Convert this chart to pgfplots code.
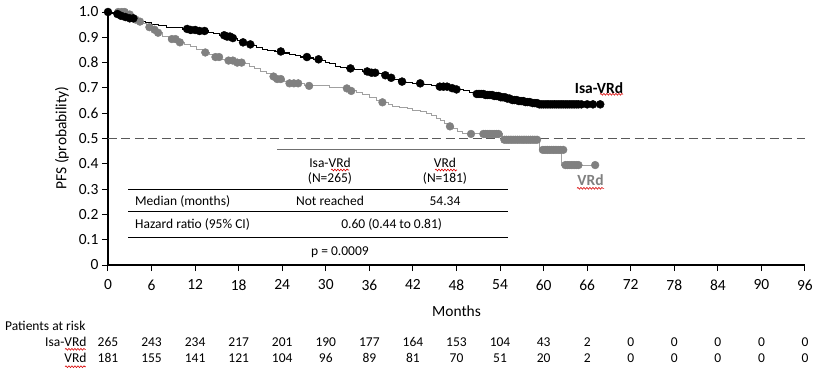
\documentclass[border=0pt]{standalone}
\usepackage{pgfplots}
\pgfplotsset{compat=1.18}
\usepackage{fontspec}
\setmainfont{Carlito}
\usetikzlibrary{decorations.pathmorphing}
\definecolor{grayline}{HTML}{A0A0A0}
\definecolor{graydot}{HTML}{808080}
\definecolor{dashcol}{HTML}{595959}
\definecolor{toprule}{HTML}{707070}
\newcommand{\fs}[1]{\fontsize{#1}{#1}\selectfont}
\begin{document}
\begin{tikzpicture}
\path[use as bounding box] (-108pt,-108pt) rectangle (709pt,265pt);
\begin{axis}[
  at={(0pt,0pt)}, anchor=south west,
  scale only axis, width=697pt, height=253pt,
  xmin=0, xmax=96, ymin=0, ymax=1,
  axis x line*=bottom, axis y line*=left,
  axis line style={-, black, line width=1.3pt},
  xtick={0,6,12,18,24,30,36,42,48,54,60,66,72,78,84,90,96},
  ytick={0,0.1,0.2,0.3,0.4,0.5,0.6,0.7,0.8,0.9,1.0},
  yticklabels={0,0.1,0.2,0.3,0.4,0.5,0.6,0.7,0.8,0.9,1.0},
  tick align=outside, major tick length=6pt,
  tick style={black, line width=1pt},
  /pgf/number format/assume math mode=true,
  tick label style={font=\fs{15.5}},
  xticklabel style={yshift=-5pt},
  clip=false,
]
\addplot[dashcol, line width=1.5pt, dash pattern=on 9pt off 4.5pt] coordinates {(0,0.5) (96,0.5)};
% VRd curve
\addplot[const plot, grayline, line width=1pt] table {
t s
0 1.000
2.6 0.990
3.2 0.980
3.6 0.970
4.2 0.962
4.6 0.955
5.3 0.940
6.2 0.930
6.7 0.918
7.5 0.905
8.3 0.893
9.6 0.880
10.5 0.870
11.3 0.862
12.2 0.852
13.0 0.840
14.0 0.832
14.6 0.822
15.6 0.812
16.3 0.808
17.6 0.800
18.8 0.795
19.5 0.785
20.2 0.775
21.0 0.765
21.8 0.756
22.5 0.745
23.2 0.735
24.3 0.725
24.8 0.718
27.0 0.708
30.5 0.703
32.5 0.698
33.4 0.688
34.2 0.680
35.0 0.672
36.0 0.662
37.0 0.652
37.6 0.643
38.6 0.635
39.2 0.627
40.2 0.622
41.2 0.617
42.0 0.612
43.0 0.605
43.8 0.598
44.5 0.590
45.2 0.580
45.8 0.570
46.3 0.560
47.0 0.548
47.6 0.538
48.2 0.528
48.8 0.518
54.3 0.495
59.5 0.455
62.5 0.395
67.1 0.395
};
\addplot[only marks, mark=*, mark size=3.9pt, graydot, mark options={draw=graydot, fill=graydot}] table {
t s
1.4 1.000
1.9 1.000
2.3 1.000
3.0 0.990
3.8 0.970
4.4 0.962
5.7 0.940
6.4 0.930
6.9 0.918
8.8 0.893
9.3 0.893
9.9 0.880
13.4 0.840
14.8 0.822
15.3 0.822
16.6 0.808
17.2 0.808
17.8 0.800
18.4 0.800
22.8 0.745
23.3 0.735
23.8 0.735
25.0 0.718
25.6 0.718
26.2 0.718
27.7 0.708
32.9 0.698
33.5 0.688
37.8 0.643
47.1 0.548
50.0 0.518
51.7 0.518
52.0 0.518
52.3 0.518
52.6 0.518
52.9 0.518
53.2 0.518
53.5 0.518
53.8 0.518
54.6 0.495
54.9 0.495
55.2 0.495
55.5 0.495
55.8 0.495
56.1 0.495
56.4 0.495
56.7 0.495
57.0 0.495
57.3 0.495
57.6 0.495
57.9 0.495
58.2 0.495
58.5 0.495
58.8 0.495
59.1 0.495
59.9 0.455
60.2 0.455
60.5 0.455
60.8 0.455
61.1 0.455
61.4 0.455
61.7 0.455
62.0 0.455
62.3 0.455
62.7 0.455
63.0 0.395
63.3 0.395
63.6 0.395
63.9 0.395
64.2 0.395
64.5 0.395
64.8 0.395
67.1 0.395
};
% Isa-VRd curve
\addplot[const plot, black, line width=1.1pt] table {
t s
0 1.000
0.5 0.996
1.0 0.992
1.5 0.985
2.2 0.980
3.0 0.975
3.8 0.970
4.5 0.963
5.2 0.957
6.0 0.952
7.0 0.946
8.0 0.940
9.5 0.938
10.3 0.933
11.0 0.929
12.5 0.925
13.8 0.920
14.5 0.914
15.3 0.908
16.2 0.903
17.0 0.897
17.8 0.889
18.5 0.880
19.2 0.872
19.8 0.866
20.5 0.858
21.3 0.852
22.0 0.848
23.0 0.844
24.0 0.838
25.0 0.833
25.8 0.827
26.5 0.822
27.5 0.818
28.3 0.813
29.2 0.809
30.0 0.799
30.5 0.795
31.3 0.786
32.0 0.781
32.8 0.777
34.0 0.772
35.0 0.765
36.0 0.760
37.0 0.756
38.0 0.750
38.8 0.740
39.3 0.732
40.0 0.725
40.8 0.721
42.0 0.718
43.5 0.713
44.5 0.708
45.5 0.705
47.0 0.699
48.0 0.694
49.0 0.688
49.8 0.682
50.5 0.676
52.0 0.672
53.0 0.668
54.0 0.663
55.0 0.658
55.6 0.652
56.5 0.648
57.5 0.644
58.5 0.640
59.3 0.635
67.8 0.635
};
\addplot[only marks, mark=*, mark size=4pt, black] table {
t s
0.0 1.000
1.3 0.992
1.8 0.985
2.4 0.980
3.0 0.975
3.5 0.975
10.9 0.933
11.4 0.929
12.0 0.929
12.6 0.925
13.3 0.925
16.0 0.908
16.4 0.903
16.8 0.903
17.2 0.897
18.6 0.880
19.6 0.872
23.8 0.844
27.4 0.822
29.0 0.813
33.4 0.777
35.7 0.765
36.3 0.760
36.8 0.760
38.2 0.750
39.0 0.740
40.5 0.725
43.0 0.718
45.7 0.705
46.2 0.705
46.7 0.705
47.4 0.699
48.0 0.694
50.8 0.676
51.1 0.676
51.4 0.676
51.7 0.676
52.0 0.672
52.3 0.672
52.6 0.672
52.9 0.672
53.2 0.668
53.5 0.668
53.8 0.668
54.1 0.663
54.4 0.663
54.7 0.663
55.0 0.658
55.3 0.658
55.7 0.652
56.0 0.652
56.3 0.652
56.6 0.648
56.9 0.648
57.2 0.648
57.5 0.644
57.8 0.644
58.1 0.644
58.5 0.640
58.8 0.640
59.1 0.640
59.4 0.635
59.7 0.635
60.0 0.635
60.3 0.635
60.6 0.635
60.9 0.635
61.2 0.635
61.5 0.635
61.8 0.635
62.1 0.635
62.4 0.635
62.7 0.635
63.0 0.635
63.3 0.635
63.6 0.635
63.9 0.635
64.2 0.635
64.5 0.635
64.8 0.635
65.2 0.635
66.0 0.635
66.8 0.635
67.8 0.635
};
\end{axis}
\begin{scope}[x=1pt, y=1pt]
% axis labels
\node[font=\fs{15.5}] at (348.5,-45.7) {Months};
\node[font=\fs{15.5}, rotate=90] at (-46,127) {PFS (probability)};
% curve labels
\node[font=\fs{15.5}\bfseries, inner sep=0pt] at (491,177) {Isa-VRd};
\node[font=\fs{15.5}\bfseries, text=graydot, inner sep=0pt] at (482.5,85) {VRd};
% inset table
\draw[toprule, line width=1.5pt] (169,115.7) -- (402,115.7);
\node[font=\fs{13.5}] at (222,101.7) {Isa-VRd};
\node[font=\fs{13.5}] at (222,86.7) {(N=265)};
\node[font=\fs{13.5}] at (337,101.7) {VRd};
\node[font=\fs{13.5}] at (337,86.7) {(N=181)};
\draw[black, line width=1.3pt] (20,75.7) -- (400,75.7);
\node[font=\fs{13.5}, anchor=west, inner sep=0pt] at (27,64) {Median (months)};
\node[font=\fs{13.5}] at (222,64) {Not reached};
\node[font=\fs{13.5}] at (337,64) {54.34};
\draw[black, line width=1.3pt] (20,53.3) -- (400,53.3);
\node[font=\fs{13.5}, anchor=west, inner sep=0pt] at (27,40.7) {Hazard ratio (95\% CI)};
\node[font=\fs{13.5}] at (283.7,40.7) {0.60 (0.44 to 0.81)};
\draw[black, line width=1.3pt] (20,27.7) -- (400,27.7);
\node[font=\fs{13.5}] at (232,12.7) {p = 0.0009};
% patients at risk
\node[font=\fs{13.5}, anchor=west, inner sep=0pt] at (-103,-60.7) {Patients at risk};
\node[font=\fs{13.5}, anchor=east, inner sep=0pt] at (-21.3,-76.7) {Isa-VRd};
\node[font=\fs{13.5}, anchor=east, inner sep=0pt] at (-21.3,-93.3) {VRd};
\foreach \m/\a/\b in {0/265/181, 6/243/155, 12/234/141, 18/217/121, 24/201/104, 30/190/96, 36/177/89, 42/164/81, 48/153/70, 54/104/51, 60/43/20, 66/2/2, 72/0/0, 78/0/0, 84/0/0, 90/0/0, 96/0/0} {
  \node[font=\fs{13.5}] at (\m*7.2604,-76.7) {\a};
  \node[font=\fs{13.5}] at (\m*7.2604,-93.3) {\b};
}
% spell-check squiggles
\tikzset{sq/.style={red!85!black, line width=0.6pt, decorate, decoration={snake, amplitude=0.9pt, segment length=3pt}}}
\draw[sq] (492,170.7) -- (515,170.7);
\draw[sq] (469,76.7) -- (496,76.7);
\draw[sq] (223,95) -- (241,95);
\draw[sq] (327,95) -- (349,95);
\draw[sq] (-43,-84.3) -- (-22,-84.3);
\draw[sq] (-43,-101.7) -- (-22,-101.7);
\end{scope}
\end{tikzpicture}
\end{document}
